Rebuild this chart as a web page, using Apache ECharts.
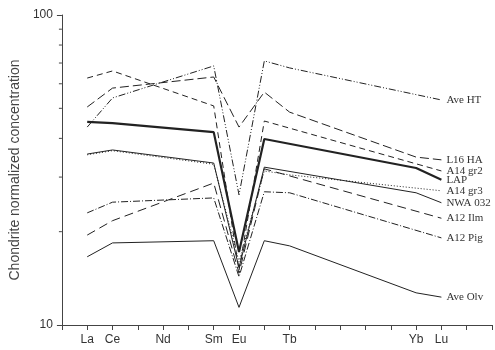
<!DOCTYPE html>
<html>
<head>
<meta charset="utf-8">
<script src="https://cdn.jsdelivr.net/npm/echarts@6/dist/echarts.min.js"></script>
<style>html,body{margin:0;padding:0;background:#fff}#c{width:495px;height:350px}</style>
</head>
<body>
<div id="c"></div>
<script>
// Atomic numbers of plotted elements: La Ce Sm Eu Gd Tb Yb Lu
const atomicNumbers = [57, 58, 62, 63, 64, 65, 70, 71];
// Chondrite-normalized values (null = not a vertex on the drawn line)
const aveHT  = [43.5, 54.0, 68.5, 26.3, 71.1, 67.5, null, 53.2];
const l16HA  = [50.5, 58.1, 63.1, 43.5, 56.4, 48.6, 34.8, 34.1];
const a14gr2 = [62.6, 66.0, 50.9, 15.0, 45.5, null, null, 31.4];
const lap    = [45.2, 44.8, 41.9, 17.2, 39.8, null, 32.1, 29.4];
const a14gr3 = [35.4, 36.5, 33.0, 16.0, 31.4, 30.5, null, 27.1];
const nwa032 = [35.6, 36.7, 33.3, 15.3, 32.3, null, 26.7, 24.8];
const a12Ilm = [19.5, 21.7, 28.7, 14.7, 31.9, null, null, 22.1];
const a12Pig = [23.0, 24.9, 25.7, 14.3, 26.9, 26.7, null, 19.1];
const aveOlv = [16.6, 18.4, 18.7, 11.4, 18.7, 18.0, 12.7, 12.3];

// X tick labels
const tickNumbers = [57, 58, 60, 62, 63, 65, 70, 71];
const tickNames   = ['La', 'Ce', 'Nd', 'Sm', 'Eu', 'Tb', 'Yb', 'Lu'];
// Y minor ticks
const minorTicks = [20, 30, 40, 50, 60, 70, 80, 90];

const INK = '#222';
function mk(name, vals, dash, width) {
  return {
    name: name, type: 'line', symbol: 'none', connectNulls: true, silent: true,
    data: atomicNumbers.map((x, i) => [x, vals[i]]).filter(d => d[1] !== null),
    lineStyle: { color: INK, width: width || 1, type: dash || 'solid' },
    endLabel: {
      show: true, formatter: '{a}', distance: 5,
      fontFamily: '"Liberation Serif","DejaVu Serif",serif', fontSize: 11, color: '#333'
    }
  };
}

const chart = echarts.init(document.getElementById('c'), null, { renderer: 'canvas' });
chart.setOption({
  animation: false,
  backgroundColor: '#fff',
  grid: { left: 59, right: -4, top: 15, bottom: 25, containLabel: false },
  xAxis: {
    type: 'value', min: 56, max: 73, interval: 1,
    axisLine: { show: true, lineStyle: { color: '#444', width: 1 } },
    axisTick: { show: true, length: 5, lineStyle: { color: '#444' } },
    splitLine: { show: false },
    axisLabel: {
      margin: 9, fontFamily: '"Liberation Sans",Arial,sans-serif', fontSize: 12, color: '#333',
      formatter: v => { const i = tickNumbers.indexOf(v); return i >= 0 ? tickNames[i] : ''; }
    }
  },
  yAxis: {
    type: 'log', logBase: 10, min: 10, max: 100,
    name: 'Chondrite normalized concentration', nameLocation: 'middle', nameGap: 34,
    nameTextStyle: { fontFamily: '"Liberation Sans",Arial,sans-serif', fontSize: 14, color: '#444' },
    axisLine: { show: true, lineStyle: { color: '#444', width: 1 } },
    axisTick: { show: true, length: 5, lineStyle: { color: '#444' } },
    splitLine: { show: false },
    axisLabel: { margin: 9, fontFamily: '"Liberation Sans",Arial,sans-serif', fontSize: 12, color: '#333' }
  },
  series: [
    mk('Ave HT', aveHT, [7, 2, 1, 2, 1, 2]),
    mk('L16 HA', l16HA, [9, 4]),
    mk('A14 gr2', a14gr2, [6, 4]),
    mk('LAP', lap, 'solid', 2.2),
    mk('A14 gr3', a14gr3, [1, 2]),
    mk('NWA 032', nwa032, 'solid', 1),
    mk('A12 Ilm', a12Ilm, [9, 5]),
    mk('A12 Pig', a12Pig, [7, 2, 1, 2]),
    mk('Ave Olv', aveOlv, 'solid', 1),
    {
      type: 'custom', silent: true, clip: false,
      data: minorTicks.map(v => [56, v]),
      renderItem: function (params, api) {
        const p = api.coord([api.value(0), api.value(1)]);
        return { type: 'line', shape: { x1: p[0] - 3, y1: p[1], x2: p[0], y2: p[1] },
                 style: { stroke: '#444', lineWidth: 1 } };
      }
    }
  ]
});
</script>
</body>
</html>
